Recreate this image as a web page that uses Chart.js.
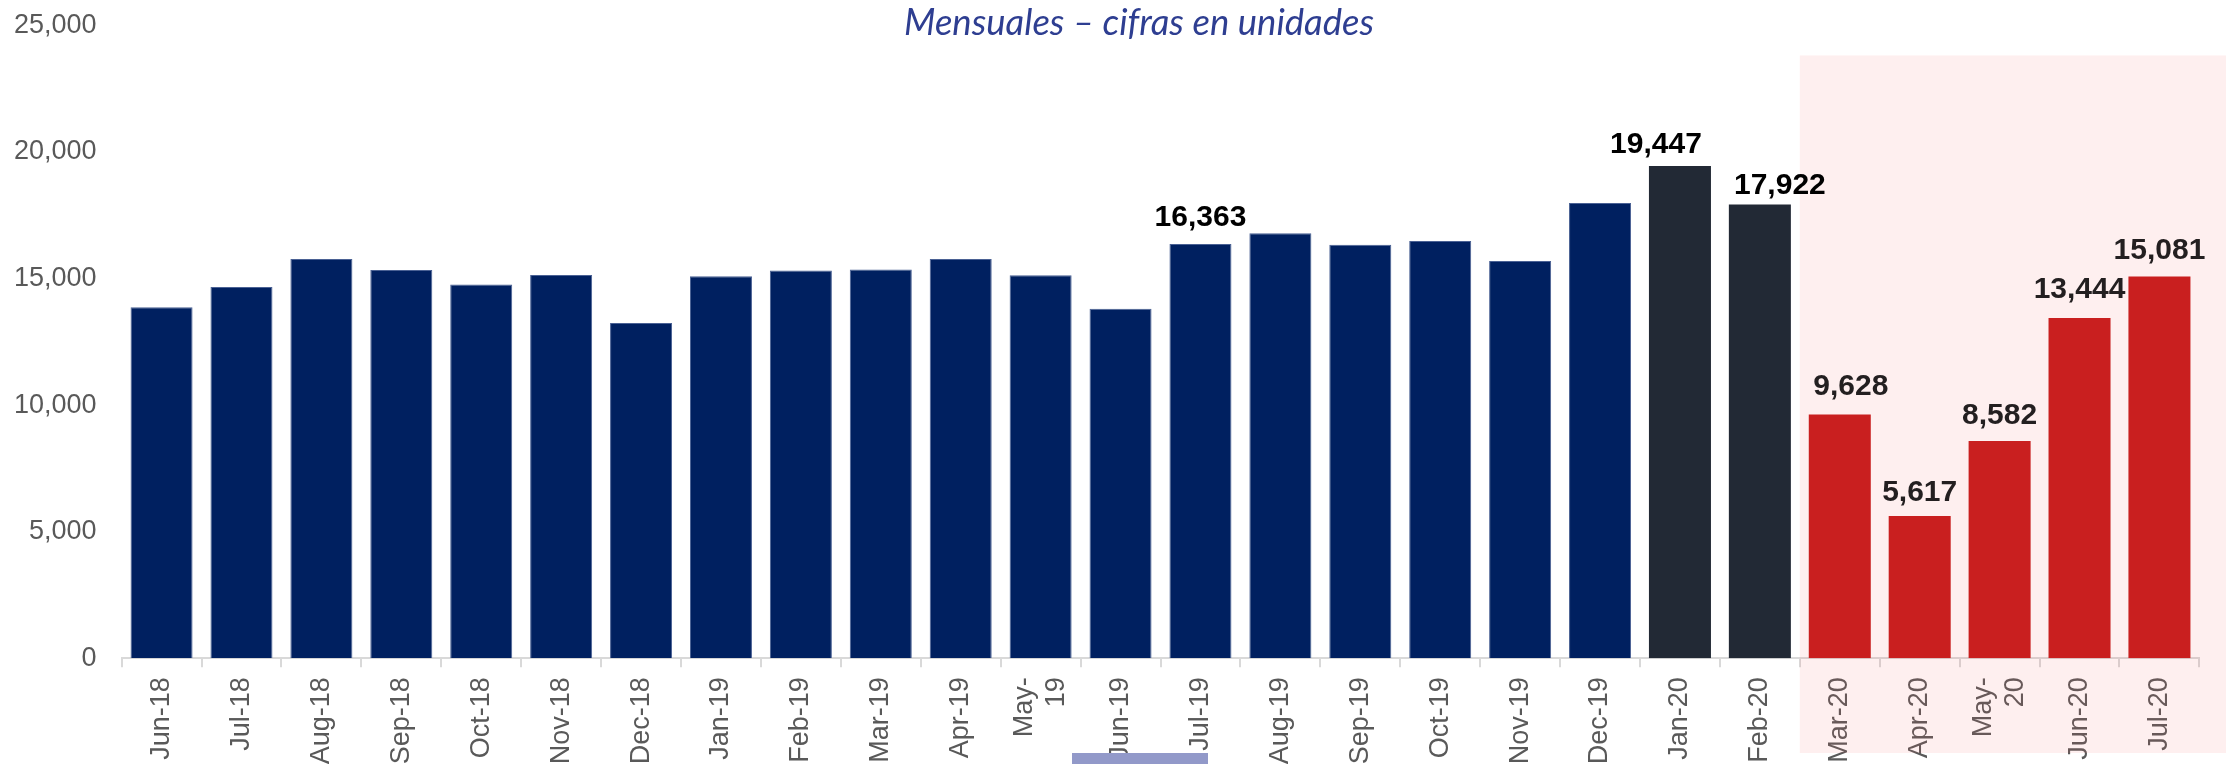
<!DOCTYPE html>
<html><head><meta charset="utf-8">
<script src="https://cdn.jsdelivr.net/npm/chart.js@4.4.1/dist/chart.umd.min.js"></script>
<style>html,body{margin:0;padding:0;background:#fff;overflow:hidden}canvas{display:block}</style>
</head><body>
<canvas id="c" width="2226" height="764"></canvas>
<script>
const categories = ['Jun-18','Jul-18','Aug-18','Sep-18','Oct-18','Nov-18','Dec-18',
  'Jan-19','Feb-19','Mar-19','Apr-19','May-19','Jun-19','Jul-19','Aug-19','Sep-19','Oct-19','Nov-19','Dec-19',
  'Jan-20','Feb-20','Mar-20','Apr-20','May-20','Jun-20','Jul-20'];
const tickLabels = ['Jun-18','Jul-18','Aug-18','Sep-18','Oct-18','Nov-18','Dec-18',
  'Jan-19','Feb-19','Mar-19','Apr-19',['May-','19'],'Jun-19','Jul-19','Aug-19','Sep-19','Oct-19','Nov-19','Dec-19',
  'Jan-20','Feb-20','Mar-20','Apr-20',['May-','20'],'Jun-20','Jul-20'];
const unidades = [13870,14670,15770,15340,14770,15140,13240,
  15090,15320,15360,15770,15130,13810,16363,16790,16340,16480,15690,17985,
  19447,17922,9628,5617,8582,13444,15081];
const yTickValues = [0,5000,10000,15000,20000,25000];
const labelledCategories = ['Jul-19','Jan-20','Feb-20','Mar-20','Apr-20','May-20','Jun-20','Jul-20'];
const titleText = 'Mensuales – cifras en unidades';

const NAVY = '#002060', GRAY = '#222935', RED = '#C91F1F';
const colorFor = i => i < 19 ? NAVY : (i < 21 ? GRAY : RED);
const FONT = '"Liberation Sans", Arial, sans-serif';

const deco = {
  id: 'deco',
  beforeDraw(chart) {
    const xs = chart.scales.x;
    const items = xs.getLabelItems(chart.chartArea);
    items.forEach(it => {
      if (Array.isArray(it.label) && it.label.length > 1 && !it._shifted) {
        it.options.translation[0] -= 16;
        it._shifted = true;
      }
    });
  },
  beforeDatasetsDraw(chart) {
    const ctx = chart.ctx, xs = chart.scales.x;
    const left = (xs.getPixelForValue(20) + xs.getPixelForValue(21)) / 2;
    const top = chart.chartArea.top + 30;
    ctx.save();
    ctx.fillStyle = 'rgba(250,100,100,0.1)';
    ctx.fillRect(left, top, chart.width - left, chart.height - 11 - top);
    ctx.restore();
  },
  afterDatasetsDraw(chart, args, opts) {
    const ctx = chart.ctx;
    const meta = chart.getDatasetMeta(0);
    ctx.save();
    ctx.font = 'bold 30px ' + FONT;
    ctx.textAlign = 'center';
    ctx.textBaseline = 'alphabetic';
    categories.forEach((c, i) => {
      if (!labelledCategories.includes(c)) return;
      const bar = meta.data[i];
      const n = opts.nudges[c] || [0, 17];
      ctx.fillStyle = i >= 21 ? '#231F20' : '#000000';
      ctx.fillText(unidades[i].toLocaleString('en-US'), bar.x + n[0], bar.y - n[1]);
    });
    ctx.restore();
  },
  afterDraw(chart) {
    const ctx = chart.ctx;
    ctx.save();
    ctx.fillStyle = '#9299C9';
    ctx.fillRect(1072, 753, 136, 11);
    let size = 31;
    ctx.font = 'italic ' + size + 'px Lato, "Open Sans", sans-serif';
    const w = ctx.measureText(titleText).width;
    size = size * 470 / w;
    ctx.font = 'italic ' + size.toFixed(2) + 'px Lato, "Open Sans", sans-serif';
    ctx.fillStyle = '#2E3E91';
    ctx.textAlign = 'center';
    ctx.textBaseline = 'alphabetic';
    ctx.fillText(titleText, 1139, 35);
    ctx.restore();
  }
};

new Chart(document.getElementById('c'), {
  type: 'bar',
  data: {
    labels: tickLabels,
    datasets: [{
      data: unidades,
      backgroundColor: unidades.map((v, i) => colorFor(i)),
      borderColor: unidades.map((v, i) => i < 19 ? '#4A6194' : colorFor(i)),
      borderWidth: unidades.map((v, i) => i < 19 ? 1 : 0),
      borderSkipped: 'bottom',
      barPercentage: 0.776,
      categoryPercentage: 1
    }]
  },
  options: {
    responsive: false,
    devicePixelRatio: 1,
    animation: false,
    layout: { padding: { top: 25.4, right: 26.6, left: 0, bottom: 0 } },
    plugins: {
      legend: { display: false },
      tooltip: { enabled: false },
      title: { display: false },
      deco: { nudges: { 'Jul-19': [0, 18], 'Jan-20': [-24, 13], 'Feb-20': [20, 11], 'Mar-20': [11, 20],
                        'Apr-20': [0, 15], 'May-20': [0, 17], 'Jun-20': [0, 20], 'Jul-20': [0, 18] } }
    },
    scales: {
      x: {
        offset: true,
        grid: { display: true, drawOnChartArea: false, drawTicks: true, tickLength: 9, color: '#D9D9D9', lineWidth: 2, offset: true },
        border: { display: true, color: '#D9D9D9', width: 2 },
        ticks: { autoSkip: false, minRotation: 90, maxRotation: 90, padding: 10, color: '#595959',
                 font: { family: FONT, size: 27 } },
        afterFit(s) { s.height = 105.7; }
      },
      y: {
        min: 0, max: 25000,
        grid: { display: false, drawTicks: false },
        border: { display: false },
        ticks: { padding: 25, color: '#595959', font: { family: FONT, size: 27 },
                 callback: v => Number(v).toLocaleString('en-US') },
        afterBuildTicks(s) { s.ticks = yTickValues.map(v => ({ value: v })); },
        afterFit(s) { s.width = 121.6; s.paddingTop = 16; s.paddingBottom = 16; }
      }
    }
  },
  plugins: [deco]
});
</script>
</body></html>
